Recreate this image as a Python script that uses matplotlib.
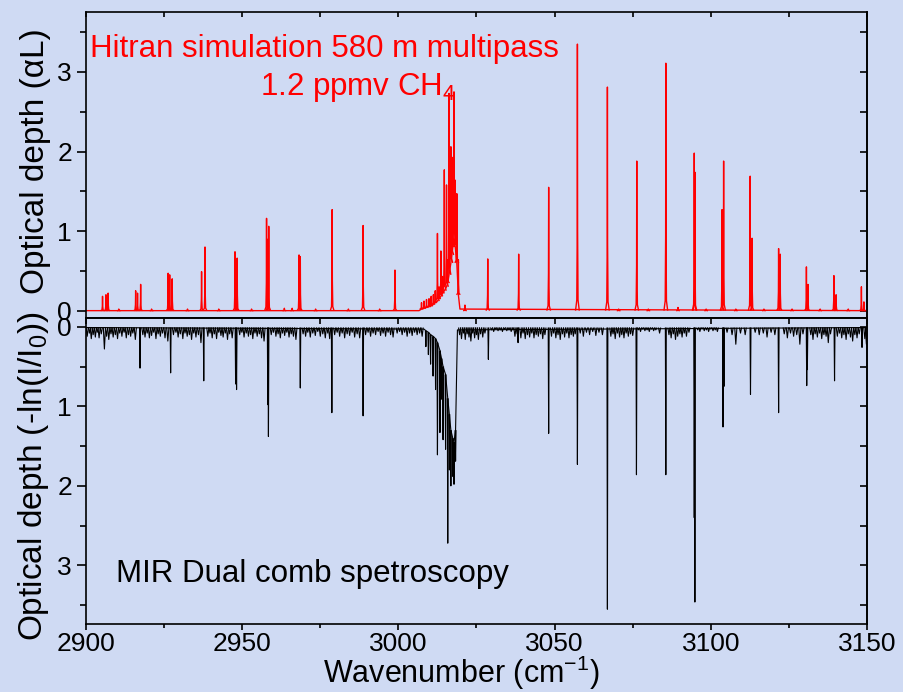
import matplotlib
matplotlib.use("Agg")
import matplotlib.pyplot as plt
from matplotlib.collections import LineCollection
from matplotlib.ticker import MultipleLocator

# ---- HITRAN simulation (top panel): single lines, peak optical depth
top_pos = [2905.3, 2906.4, 2907.1, 2910.5, 2915.9, 2916.5, 2917.5, 2921.0, 2926.3, 2926.8,
           2927.6, 2932.5, 2937.0, 2938.1, 2942.5, 2947.7, 2948.1, 2948.4, 2953.0, 2957.8,
           2958.2, 2958.5, 2963.5, 2966.0, 2968.2, 2968.6, 2973.5, 2978.8, 2984.0, 2988.7,
           2994.0, 2998.9, 3021.3, 3028.6, 3038.5, 3048.1, 3057.3, 3066.9, 3070.5, 3076.3,
           3080.0, 3085.6, 3089.5, 3094.7, 3094.9, 3098.5, 3103.6, 3104.1, 3108.0, 3112.6,
           3113.2, 3117.0, 3121.7, 3122.2, 3126.0, 3130.6, 3131.1, 3135.0, 3139.4, 3140.1,
           3144.0, 3148.2, 3149.0]
top_height = [0.18, 0.20, 0.22, 0.02, 0.25, 0.22, 0.33, 0.02, 0.47, 0.45,
              0.40, 0.02, 0.49, 0.80, 0.02, 0.74, 0.55, 0.66, 0.02, 1.16,
              0.90, 1.06, 0.03, 0.03, 0.70, 0.68, 0.02, 1.27, 0.02, 1.07,
              0.02, 0.51, 0.07, 0.65, 0.71, 1.55, 3.35, 2.81, 0.02, 1.88,
              0.02, 3.11, 0.04, 1.98, 1.74, 0.02, 1.27, 1.88, 0.02, 1.69,
              0.91, 0.02, 0.78, 0.71, 0.02, 0.55, 0.33, 0.02, 0.44, 0.20,
              0.02, 0.30, 0.11]

# Q-branch cluster (top): position, peak, local floor
q_pos = [3007.4, 3008.2, 3009.0, 3009.8, 3010.5, 3011.2, 3011.8, 3012.5, 3013.0, 3013.6,
         3014.2, 3014.7, 3015.4, 3015.8, 3016.2, 3016.8, 3017.1, 3017.4, 3017.8, 3018.2,
         3018.7, 3019.2]
q_height = [0.10, 0.12, 0.14, 0.15, 0.18, 0.20, 0.25, 0.97, 0.30, 0.75,
            0.43, 1.77, 1.58, 0.64, 2.73, 2.06, 1.93, 1.85, 2.75, 1.64,
            1.47, 0.64]
q_base = [0.02, 0.03, 0.04, 0.05, 0.06, 0.08, 0.10, 0.12, 0.15, 0.18,
          0.22, 0.25, 0.30, 0.35, 0.45, 0.60, 0.70, 0.80, 0.90, 0.80,
          0.60, 0.20]
top_floor_x = [2900.0, 3006.6] + q_pos + [3019.7, 3150.0]
top_floor_y = [0.0, 0.0] + q_base + [0.02, 0.0]

# ---- Dual comb measurement (bottom panel): strong lines, depth
bot_pos = [2917.3, 2927.1, 2937.7, 2947.9, 2948.2, 2958.2, 2958.4, 2968.6, 2978.7, 2988.7,
           3028.8, 3038.3, 3048.1, 3057.3, 3066.9, 3076.2, 3085.6, 3094.7, 3094.9, 3103.9,
           3104.2, 3112.7, 3121.7, 3130.7, 3130.9, 3139.6, 3148.4]
bot_depth = [0.52, 0.58, 0.68, 0.72, 0.79, 0.98, 1.38, 0.77, 1.08, 1.12,
             0.41, 0.20, 1.34, 1.73, 3.55, 1.86, 1.86, 2.40, 3.46, 1.26,
             0.75, 0.85, 1.08, 0.74, 0.54, 0.68, 0.26]

bq_pos = [3008.8, 3009.6, 3010.3, 3011.1, 3011.9, 3012.5, 3013.3, 3013.8, 3014.3, 3015.1,
          3015.8, 3016.3, 3016.8, 3017.4, 3017.8, 3018.3]
bq_depth = [0.25, 0.35, 0.47, 0.62, 0.79, 1.61, 1.33, 0.91, 1.42, 1.54,
            2.72, 1.80, 2.00, 1.88, 1.98, 1.69]
bq_base = [0.05, 0.07, 0.10, 0.12, 0.15, 0.20, 0.30, 0.40, 0.50, 0.60,
           0.90, 1.10, 1.30, 1.40, 1.45, 1.30]
bot_floor_x = [2900.0, 3008.2] + bq_pos + [3018.9, 3150.0]
bot_floor_y = [0.01, 0.03] + bq_base + [0.04, 0.01]

# weak features / noise on the measured baseline
noise_pos = [2900.4, 2901.1, 2901.7, 2902.3, 2903.0, 2903.6, 2904.2, 2904.9, 2905.9, 2906.6,
             2907.3, 2908.0, 2908.7, 2909.4, 2910.1, 2910.8, 2911.5, 2912.2, 2912.9, 2913.6,
             2914.3, 2915.0, 2915.8, 2918.2, 2918.9, 2919.6, 2920.3, 2921.0, 2921.7, 2922.4,
             2923.1, 2923.8, 2924.5, 2925.3, 2926.2, 2928.0, 2928.8, 2929.5, 2930.2, 2931.0,
             2931.7, 2932.4, 2933.1, 2933.8, 2934.5, 2935.2, 2936.0, 2936.8, 2939.0, 2939.7,
             2940.4, 2941.1, 2941.8, 2942.5, 2943.2, 2943.9, 2944.6, 2945.3, 2946.0, 2946.8,
             2949.2, 2949.9, 2950.6, 2951.3, 2952.0, 2952.7, 2953.4, 2954.1, 2954.8, 2955.5,
             2956.2, 2957.0, 2959.3, 2960.0, 2960.8, 2961.5, 2962.2, 2962.9, 2963.6, 2964.3,
             2965.0, 2965.7, 2966.4, 2967.2, 2969.5, 2970.3, 2971.0, 2971.8, 2972.6, 2973.4,
             2974.2, 2975.0, 2975.8, 2976.6, 2977.4, 2978.0, 2979.6, 2980.4, 2981.2, 2982.0,
             2982.8, 2983.6, 2984.4, 2985.2, 2986.0, 2986.8, 2987.6, 2989.5, 2990.3, 2991.1,
             2991.9, 2992.7, 2993.5, 2994.3, 2995.1, 2995.9, 2996.7, 2997.5, 2998.3, 2999.6,
             3000.4, 3001.2, 3002.0, 3002.8, 3003.6, 3004.4, 3005.2, 3006.0, 3006.8, 3007.6,
             3019.6, 3020.2, 3020.8, 3021.4, 3022.0, 3022.6, 3023.2, 3023.8, 3024.4, 3025.0,
             3025.6, 3026.3, 3027.0, 3027.7,
             3029.8, 3030.5, 3031.2, 3031.9, 3032.6, 3033.3, 3034.0, 3034.7, 3035.4, 3036.1,
             3036.7, 3037.3, 3038.0,
             3039.2, 3039.9, 3040.6, 3041.3, 3042.0, 3042.7, 3043.4, 3044.1, 3044.8, 3045.5,
             3046.2, 3046.9, 3049.0, 3049.7, 3050.4, 3051.1, 3051.8, 3052.5, 3053.2, 3053.9,
             3054.6, 3055.3, 3056.0, 3056.6, 3058.2, 3059.2, 3060.2, 3061.2, 3062.2, 3063.2,
             3064.2, 3065.3, 3068.0, 3068.7, 3069.4, 3070.1, 3070.8, 3071.5, 3072.2, 3072.9,
             3073.6, 3074.3, 3075.0,
             3076.8, 3077.5, 3078.2, 3078.9, 3079.6, 3080.3, 3081.0, 3081.7, 3082.4,
             3083.6, 3086.6, 3087.3, 3088.0,
             3088.7, 3089.4, 3090.1, 3090.8, 3091.5, 3092.2, 3093.0,
             3095.8, 3096.5, 3097.2, 3097.9, 3098.6, 3099.3, 3100.0, 3100.7, 3101.4, 3102.1,
             3105.2, 3106.8, 3108.0, 3109.5, 3111.0, 3114.2, 3115.5, 3116.8, 3118.0,
             3119.3, 3120.5, 3123.5, 3124.5, 3125.5, 3126.5, 3127.5, 3128.5, 3129.5, 3132.0,
             3132.7, 3133.4, 3134.1, 3134.8, 3135.5, 3136.2, 3136.9, 3137.6, 3138.3, 3140.5,
             3141.2, 3141.9, 3142.6, 3143.3, 3144.0, 3144.7, 3145.4, 3146.1, 3146.8, 3147.5,
             3149.3, 3149.8]
noise_depth = [.12, .08, .15, .10, .13, .07, .14, .09, .28, .12,
               .16, .09, .13, .10, .15, .08, .12, .07, .14, .10,
               .12, .08, .16, .10, .13, .08, .14, .11, .07, .15,
               .09, .12, .08, .14, .18, .10, .07, .13, .09, .15,
               .08, .12, .10, .16, .08, .13, .10, .20, .12, .08,
               .14, .09, .15, .07, .11, .13, .08, .16, .09, .14,
               .10, .07, .13, .08, .12, .10, .15, .08, .12, .09,
               .14, .18, .10, .07, .12, .09, .14, .08, .11, .07,
               .13, .09, .12, .16, .09, .12, .07, .13, .08, .11,
               .06, .12, .09, .14, .08, .15, .10, .07, .12, .08,
               .14, .09, .11, .07, .13, .09, .14, .10, .07, .12,
               .08, .10, .06, .11, .08, .12, .07, .10, .13, .08,
               .06, .10, .07, .12, .08, .11, .07, .10, .08, .12,
               .10, .15, .08, .16, .09, .13, .18, .08, .14, .10,
               .16, .09, .13, .08,
               .04, .06, .03, .05, .04, .06, .03, .05, .04, .06,
               .04, .12, .09,
               .14, .08, .15, .10, .13, .08, .14, .10, .12, .09,
               .15, .10, .12, .08, .14, .10, .16, .09, .13, .08,
               .14, .10, .12, .09, .08, .12, .07, .10, .06, .11,
               .07, .10, .12, .09, .15, .08, .13, .10, .14, .08,
               .12, .09, .11,
               .04, .06, .03, .05, .04, .06, .03, .05, .04,
               .08, .10, .14, .09,
               .16, .12, .09, .13, .08, .12, .07,
               .04, .06, .03, .05, .04, .06, .03, .05, .04, .06,
               .07, .10, .22, .08, .10, .07, .10, .08, .13,
               .07, .10, .09, .14, .08, .12, .10, .22, .09, .10,
               .16, .09, .13, .08, .15, .10, .12, .20, .09, .12,
               .08, .14, .10, .16, .09, .13, .18, .10, .14, .09,
               .15, .22]
assert len(top_pos) == len(top_height)
assert len(q_pos) == len(q_height) == len(q_base)
assert len(bot_pos) == len(bot_depth)
assert len(bq_pos) == len(bq_depth) == len(bq_base)
assert len(noise_pos) == len(noise_depth)

x_ticks = [2900, 2950, 3000, 3050, 3100, 3150]

BG = "#cfdaf3"
plt.rcParams["font.family"] = ["Liberation Sans", "DejaVu Sans"]
plt.rcParams["mathtext.fontset"] = "custom"
plt.rcParams["mathtext.rm"] = "Liberation Sans"
plt.rcParams["mathtext.it"] = "Liberation Sans:italic"
plt.rcParams["axes.linewidth"] = 1.2


def line_shapes(pos, peak, base, offs, fracs):
    segs = []
    for p, h, b in zip(pos, peak, base):
        segs.append([(p + o, b + f * (h - b)) for o, f in zip(offs, fracs)])
    return segs


fig = plt.figure(figsize=(9.04, 6.92), dpi=100, facecolor=BG)
ax1 = fig.add_axes([0.0951, 0.5405, 0.864, 0.4422])
ax2 = fig.add_axes([0.0951, 0.0978, 0.864, 0.4427])
for ax in (ax1, ax2):
    ax.set_facecolor(BG)
    ax.set_xlim(2900, 3150)

# top: simulated spectrum
red = "#ff0000"
peak_offs = [-0.6, -0.2, -0.06, 0.0, 0.06, 0.2, 0.6]
peak_fracs = [0.0, 0.04, 0.3, 1.0, 0.3, 0.04, 0.0]
ax1.plot(top_floor_x, top_floor_y, color=red, lw=1.0)
ax1.add_collection(LineCollection(
    line_shapes(top_pos, top_height, [0.0] * len(top_pos), peak_offs, peak_fracs),
    colors=red, linewidths=1.0))
ax1.add_collection(LineCollection(
    line_shapes(q_pos, q_height, q_base, peak_offs, peak_fracs),
    colors=red, linewidths=1.0))
ax1.set_ylim(-0.092, 3.754)

# bottom: measured spectrum (depth drawn downwards)
ax2.plot(bot_floor_x, bot_floor_y, color="black", lw=0.8)
ax2.add_collection(LineCollection(
    line_shapes(noise_pos, noise_depth, [0.01] * len(noise_pos), [-0.35, 0.0, 0.35], [0, 1, 0]),
    colors="black", linewidths=0.8))
ax2.add_collection(LineCollection(
    line_shapes(bot_pos, bot_depth, [0.01] * len(bot_pos), [-0.15, 0.0, 0.15], [0, 1, 0]),
    colors="black", linewidths=0.8))
ax2.add_collection(LineCollection(
    line_shapes(bq_pos, bq_depth, bq_base, [-0.15, 0.0, 0.15], [0, 1, 0]),
    colors="black", linewidths=0.8))
ax2.set_ylim(3.74, -0.11)

# ticks
for ax in (ax1, ax2):
    ax.yaxis.set_major_locator(MultipleLocator(1))
    ax.yaxis.set_minor_locator(MultipleLocator(0.5))
    ax.xaxis.set_major_locator(MultipleLocator(50))
    ax.xaxis.set_minor_locator(MultipleLocator(25))
    ax.tick_params(axis="y", which="both", left=True, right=False, direction="out",
                   labelsize=19, pad=3.5, width=1.2)
    ax.tick_params(axis="y", which="major", length=6.5)
    ax.tick_params(axis="y", which="minor", length=4)
    # inward ticks on the right spine
    ry = ax.secondary_yaxis("right")
    ry.yaxis.set_major_locator(MultipleLocator(0.5))
    ry.tick_params(direction="in", length=5, width=1.2, labelright=False)

ax1.tick_params(axis="x", which="both", bottom=False, labelbottom=False,
                top=True, direction="in", length=3.5, width=1.2)
ax2.tick_params(axis="x", which="both", top=True, direction="out", labelsize=19,
                width=1.2, pad=1.5)
ax2.tick_params(axis="x", which="major", length=4)
ax2.tick_params(axis="x", which="minor", length=3)
tx = ax2.secondary_xaxis("top")
tx.xaxis.set_major_locator(MultipleLocator(25))
tx.tick_params(direction="in", length=4, width=1.2, labeltop=False)
ax2.tick_params(axis="x", which="both", top=False)
ax2.set_xticks(x_ticks)

# labels
ax1.set_ylabel("Optical depth (\u03b1L)", fontsize=24)
ax1.yaxis.set_label_coords(-0.045, 0.513)
ax2.set_ylabel("Optical depth (-ln(I/I$_\\mathregular{0}$))", fontsize=24)
ax2.yaxis.set_label_coords(-0.045, 0.483)
ax2.set_xlabel("Wavenumber (cm$^\\mathregular{-1}$)", fontsize=22, va="baseline")
ax2.xaxis.set_label_coords(0.48, -0.193)

ax1.text(0.005, 0.853, "Hitran simulation 580 m multipass", color=red, fontsize=22.5,
         transform=ax1.transAxes, va="baseline", ha="left")
ax1.text(0.223, 0.729, "1.2 ppmv CH$_\\mathregular{4}$", color=red, fontsize=22.5,
         transform=ax1.transAxes, va="baseline", ha="left")
ax2.text(0.0384, 0.138, "MIR Dual comb spetroscopy", color="black", fontsize=22.5,
         transform=ax2.transAxes, va="baseline", ha="left")

fig.savefig("out.png", dpi=100, facecolor=BG)
